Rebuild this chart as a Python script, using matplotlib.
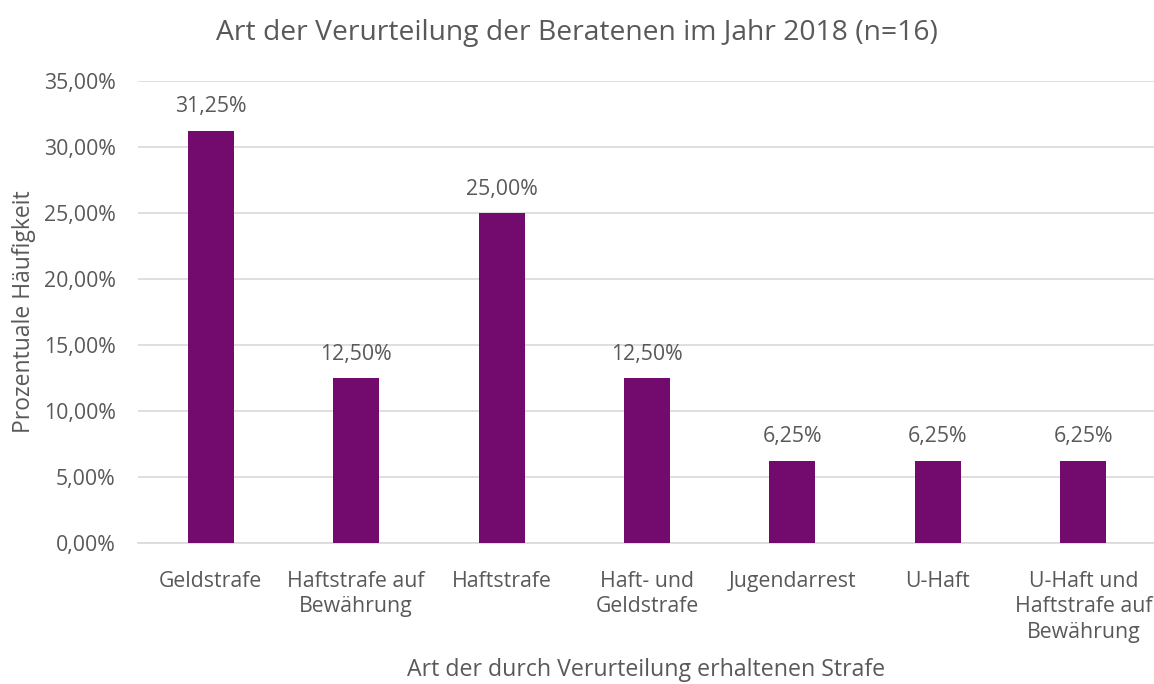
import matplotlib.pyplot as plt
from matplotlib.ticker import FuncFormatter

categories = ["Geldstrafe", "Haftstrafe auf\nBewährung", "Haftstrafe",
              "Haft- und\nGeldstrafe", "Jugendarrest", "U-Haft",
              "U-Haft und\nHaftstrafe auf\nBewährung"]
values = [31.25, 12.50, 25.00, 12.50, 6.25, 6.25, 6.25]

txt = "#595959"
plt.rcParams['font.family'] = ['Open Sans', 'DejaVu Sans']

fig = plt.figure(figsize=(11.54, 6.84), dpi=100)
ax = fig.add_axes([138 / 1154, 141 / 684, 1018 / 1154, 462 / 684])

x = range(len(categories))
ax.bar(x, values, width=0.317, color="#730B6F", zorder=3)
for i, v in zip(x, values):
    ax.text(i, v + 1.0, f"{v:.2f}%".replace(".", ","), ha="center", va="bottom",
            fontsize=15.3, color=txt)

ax.set_xlim(-0.5, 6.5)
ax.set_ylim(0, 35)
ax.set_yticks([0, 5, 10, 15, 20, 25, 30, 35])
ax.yaxis.set_major_formatter(FuncFormatter(lambda v, p: f"{v:.2f}%".replace(".", ",")))
ax.set_xticks(list(x))
ax.set_xticklabels(categories, fontsize=15.3, color=txt, linespacing=1.28)
ax.tick_params(axis="y", labelsize=15.3, labelcolor=txt, length=0, pad=16)
ax.tick_params(axis="x", length=0, pad=20)
ax.grid(axis="y", color="#D9D9D9", linewidth=1.2, zorder=0)
for s in ["top", "right", "left"]:
    ax.spines[s].set_visible(False)
ax.spines["bottom"].set_color("#D9D9D9")
ax.spines["bottom"].set_linewidth(1.2)

ax.set_ylabel("Prozentuale Häufigkeit", fontsize=16.5, color=txt, labelpad=6)
fig.text(0.56, 1 - 670 / 684, "Art der durch Verurteilung erhaltenen Strafe", ha="center",
         va="center", fontsize=16.7, color=txt)
fig.text(0.5, 1 - 33 / 684, "Art der Verurteilung der Beratenen im Jahr 2018 (n=16)",
         ha="center", va="center", fontsize=20.3, color=txt)

fig.savefig("out.png", dpi=100)
